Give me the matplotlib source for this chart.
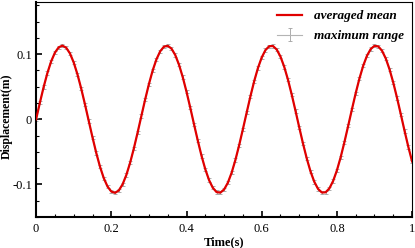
import numpy as np
import matplotlib.pyplot as plt

plt.rcParams['font.family'] = ['Liberation Serif', 'DejaVu Serif']

# time samples (s) and averaged displacement (m)
time = np.arange(0, 101) / 100.0
mean_disp = [
    0.0000, 0.0253, 0.0494, 0.0709, 0.0888, 0.1022, 0.1104, 0.1130, 0.1098, 0.1011,
    0.0872, 0.0689, 0.0470, 0.0228, -0.0026, -0.0278, -0.0517, -0.0729, -0.0904, -0.1033,
    -0.1109, -0.1129, -0.1092, -0.0999, -0.0855, -0.0668, -0.0447, -0.0203, 0.0051, 0.0303,
    0.0539, 0.0748, 0.0919, 0.1043, 0.1114, 0.1128, 0.1085, 0.0987, 0.0838, 0.0647,
    0.0423, 0.0178, -0.0077, -0.0327, -0.0562, -0.0767, -0.0934, -0.1052, -0.1118, -0.1126,
    -0.1078, -0.0974, -0.0821, -0.0626, -0.0399, -0.0152, 0.0102, 0.0352, 0.0584, 0.0786,
    0.0948, 0.1062, 0.1121, 0.1124, 0.1070, 0.0961, 0.0803, 0.0605, 0.0375, 0.0127,
    -0.0128, -0.0376, -0.0605, -0.0804, -0.0961, -0.1070, -0.1124, -0.1121, -0.1061, -0.0947,
    -0.0785, -0.0583, -0.0351, -0.0101, 0.0153, 0.0400, 0.0627, 0.0822, 0.0975, 0.1078,
    0.1127, 0.1118, 0.1052, 0.0933, 0.0766, 0.0561, 0.0327, 0.0076, -0.0179, -0.0424,
    -0.0648,
]
# half width of the max range bars
range_half = 0.0025

fig = plt.figure(figsize=(4.15, 2.48), dpi=100)
ax = fig.add_axes([0.087, 0.125, 0.906, 0.867])

eb = ax.errorbar(time, mean_disp, yerr=range_half, fmt='-', color='#b4b4b4', lw=0.8,
                 ecolor='#a0a0a0', elinewidth=0.6, capsize=1.5, capthick=0.6,
                 label='maximum range', zorder=2)
ln, = ax.plot(time, mean_disp, color='#e00000', lw=1.6, label='averaged mean', zorder=3)

ax.set_xlim(0, 1)
ax.set_ylim(-0.15, 0.18)
ax.set_xticks([0, 0.2, 0.4, 0.6, 0.8, 1])
ax.set_xticklabels(['0', '0.2', '0.4', '0.6', '0.8', '1'])
ax.set_xticks(np.arange(0, 1.001, 0.05), minor=True)
ax.set_yticks([-0.1, 0, 0.1])
ax.set_yticklabels(['-0.1', '0', '0.1'])
ax.set_yticks(np.arange(-0.15, 0.176, 0.025), minor=True)
ax.tick_params(which='both', direction='in', top=False, right=False, labelsize=9, pad=4)
ax.tick_params(axis='y', pad=3)
ax.tick_params(which='major', length=4, width=1.2)
ax.tick_params(which='minor', length=2, width=0.8)

for s in ['left', 'bottom']:
    ax.spines[s].set_linewidth(1.5)
for s in ['top', 'right']:
    ax.spines[s].set_linewidth(0.8)

ax.set_xlabel('Time(s)', fontsize=9, fontweight='bold', labelpad=1)
ax.set_ylabel('Displacement(m)', fontsize=8.5, fontweight='bold', labelpad=0)
ax.yaxis.set_label_coords(-0.062, 0.47)

leg = ax.legend([ln, eb], ['averaged mean', 'maximum range'], loc='upper right',
                frameon=False, prop={'size': 9.5, 'weight': 'bold', 'style': 'italic'},
                handlelength=1.9, labelspacing=0.6, borderaxespad=0.2, handletextpad=0.9)

fig.savefig('out.png', dpi=100)
